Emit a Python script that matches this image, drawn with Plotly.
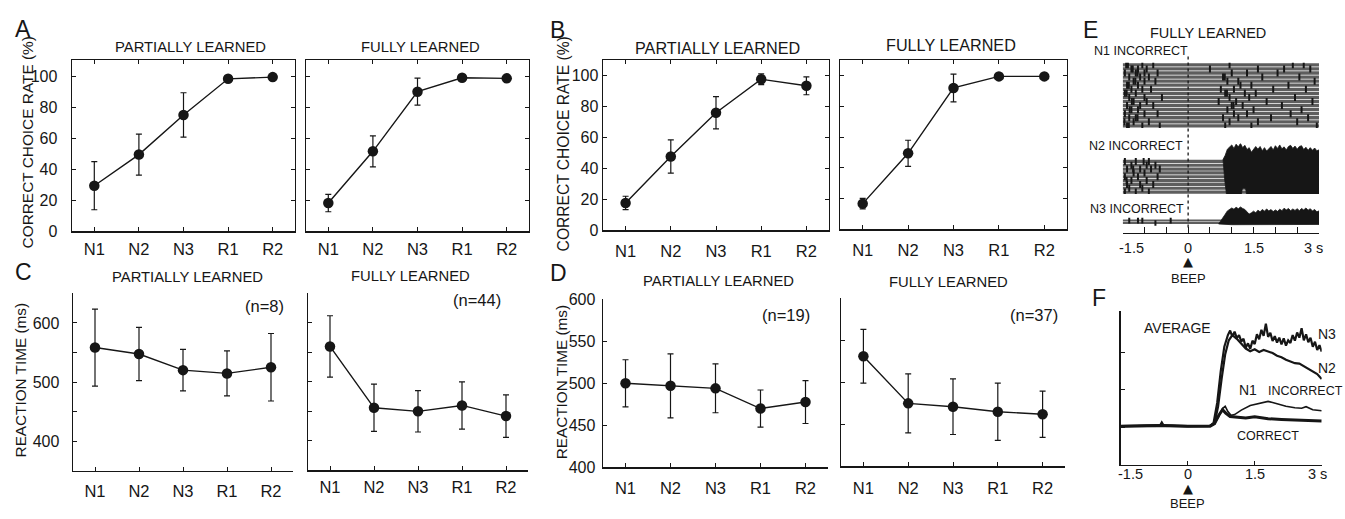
import plotly.graph_objects as go

W, H = 1345, 519
FONT = "Liberation Sans, Arial, Helvetica, sans-serif"
INK = "#161616"
ROW_GRAY = "#5e5e5e"

# ---------------- data ----------------
CATEGORIES = ["N1", "N2", "N3", "R1", "R2"]
PCT_TICKS = [0, 20, 40, 60, 80, 100]
RT_TICKS_C = [400, 450, 500, 550, 600]
RT_TEXT_C = ["400", "", "500", "", "600"]
RT_TICKS_D = [400, 450, 500, 550, 600]

# correct choice rate (%)
A_PART_MEAN = [29.5, 49.6, 75.2, 98.5, 99.6]
A_PART_ERR = [15.5, 13.2, 14.3, 0.0, 0.0]
A_FULL_MEAN = [18.3, 51.7, 90.2, 99.2, 98.8]
A_FULL_ERR = [5.6, 10.0, 8.7, 0.0, 0.0]
B_PART_MEAN = [17.8, 47.8, 76.1, 97.7, 93.5]
B_PART_ERR = [4.3, 10.8, 10.4, 3.5, 5.8]
B_FULL_MEAN = [16.8, 49.5, 92.0, 99.5, 99.5]
B_FULL_ERR = [3.4, 8.5, 9.0, 0.0, 0.0]

# reaction time (ms)
C_PART_MEAN = [558.5, 547.6, 520.3, 514.8, 525.2]
C_PART_ERR = [65, 45, 35, 38, 57]
C_FULL_MEAN = [560, 456, 450, 460, 442]
C_FULL_ERR = [52, 40, 35, 40, 36]
D_PART_MEAN = [500, 497, 494, 470, 477.7]
D_PART_ERR = [28, 38, 29, 22, 25.5]
D_FULL_MEAN = [531, 475, 471, 465, 462]
D_FULL_ERR = [32, 35, 33, 34, 27.5]

# panel E raster (time in s, trial index)
E_TIME_RANGE = [-1.5, 3.0]
E_N1_TRIALS = 16
E_N2_TRIALS = 9
E_N3_TRIALS = 2
E_N1_SPIKES = [
    (-1.42, 1), (-1.05, 1), (-0.8, 1), (0.95, 1), (2.4, 1), (2.65, 1), (-1.38, 1),
    (-1.3, 2), (-1.15, 2), (-0.95, 2), (0.5, 2), (1.6, 2), (2.2, 2), (2.8, 2), (-1.27, 2),
    (-1.45, 3), (-1.2, 3), (-1.0, 3), (-0.7, 3), (1.0, 3), (1.35, 3), (2.05, 3), (-1.16, 3),
    (-1.35, 4), (-1.1, 4), (-0.9, 4), (0.8, 4), (1.7, 4), (2.55, 4), (0.84, 4),
    (-1.25, 5), (-1.0, 5), (-0.75, 5), (0.9, 5), (1.15, 5), (2.9, 5), (-1.21, 5),
    (-1.4, 6), (-1.15, 6), (1.2, 6), (1.45, 6), (2.3, 6), (-1.36, 6),
    (-1.3, 7), (-1.05, 7), (-0.85, 7), (0.75, 7), (1.05, 7), (1.95, 7), (2.7, 7),
    (-1.45, 8), (-1.2, 8), (0.85, 8), (1.3, 8), (1.55, 8), (-1.41, 8), (0.89, 8),
    (-1.35, 9), (-1.0, 9), (-0.6, 9), (0.95, 9), (1.4, 9), (2.45, 9),
    (-1.25, 10), (-0.95, 10), (0.7, 10), (1.1, 10), (1.8, 10), (2.85, 10), (-1.29, 10),
    (-1.4, 11), (-1.1, 11), (-0.8, 11), (1.0, 11), (1.25, 11), (2.15, 11), (1.04, 11),
    (-1.3, 12), (-1.15, 12), (0.9, 12), (1.5, 12), (2.6, 12), (-1.34, 12),
    (-1.45, 13), (-1.0, 13), (-0.7, 13), (1.05, 13), (1.35, 13), (2.35, 13),
    (-1.35, 14), (-1.2, 14), (0.8, 14), (1.15, 14), (1.9, 14), (2.75, 14), (-1.16, 14),
    (-1.25, 15), (-0.9, 15), (0.95, 15), (1.6, 15), (2.5, 15), (-1.46, 15),
    (-1.4, 16), (-1.05, 16), (-0.65, 16), (0.85, 16), (1.45, 16), (2.95, 16), (-1.36, 16),
]
E_N2_SPIKES = [
    (-1.45, 1), (-1.2, 1), (-0.9, 1), (-1.35, 2), (-1.05, 2), (-1.4, 3), (-1.1, 3),
    (-0.8, 3), (-1.3, 4), (-0.95, 4), (-1.45, 5), (-1.15, 5), (-0.7, 5), (-1.25, 6),
    (-1.0, 6), (-1.4, 7), (-1.1, 7), (-0.85, 7), (-0.65, 7), (-1.3, 8), (-0.95, 8),
    (-0.75, 8), (-1.45, 9), (-1.2, 9), (-0.9, 9), (-1.41, 4), (-1.26, 7), (-1.02, 9),
]
E_N3_SPIKES = [(-1.35, 2), (-1.15, 2), (-1.05, 2), (-0.75, 1), (-0.4, 2)]
E_N2_BURST_T = [0.80, 0.85, 0.90, 0.95, 1.00, 1.05, 1.10, 1.15, 1.20, 1.25, 1.30, 1.35, 1.40,
                1.45, 1.50, 1.55, 1.60, 1.65, 1.70, 1.75, 1.80, 1.85, 1.90, 1.95, 2.00, 2.05,
                2.10, 2.15, 2.20, 2.25, 2.30, 2.35, 2.40, 2.45, 2.50, 2.55, 2.60, 2.65, 2.70,
                2.75, 2.80, 2.85, 2.90, 2.95, 3.00,
                3.00, 2.70, 2.40, 2.10, 1.80, 1.50, 1.34, 1.32, 1.28, 1.24, 1.22, 1.00, 0.88,
                0.84, 0.82, 0.80]
E_N2_BURST_Y = [9.5, 10.6, 12.2, 12.9, 13.3, 12.4, 13.5, 12.8, 13.7, 12.6, 13.2, 12.1, 12.6,
                11.4, 12.1, 12.9, 12.2, 12.9, 11.8, 12.6, 11.7, 12.4, 12.9, 12.0, 13.1, 12.4,
                13.3, 12.3, 12.8, 12.0, 12.9, 13.2, 12.4, 13.0, 12.2, 12.9, 13.1, 12.1, 12.7,
                11.9, 12.6, 11.9, 12.5, 11.8, 12.0,
                0.4, 0.2, 0.35, 0.15, 0.3, 0.2, 0.3, 1.8, 2.1, 1.8, 0.3, 0.15, 0.3,
                4.0, 7.0, 9.5]
E_N3_BURST_T = [0.70, 0.75, 0.80, 0.85, 0.90, 0.95, 1.00, 1.05, 1.10, 1.15, 1.20, 1.25, 1.30,
                1.35, 1.40, 1.45, 1.50, 1.55, 1.60, 1.65, 1.70, 1.75, 1.80, 1.85, 1.90, 1.95,
                2.00, 2.05, 2.10, 2.15, 2.20, 2.25, 2.30, 2.35, 2.40, 2.45, 2.50, 2.55, 2.60,
                2.65, 2.70, 2.75, 2.80, 2.85, 2.90, 2.95, 3.00,
                3.00, 2.00, 1.00, 0.70]
E_N3_BURST_Y = [0.6, 1.8, 3.2, 4.6, 6.0, 6.8, 7.2, 6.7, 7.5, 6.9, 7.6, 7.0, 6.6,
                5.6, 4.7, 5.2, 5.9, 5.2, 6.3, 5.6, 6.6, 5.9, 6.8, 6.0, 6.6, 5.7,
                6.4, 5.8, 6.7, 6.1, 7.1, 6.4, 7.0, 6.1, 6.8, 6.2, 6.9, 6.1, 7.0,
                6.4, 7.2, 6.3, 6.9, 6.0, 6.6, 5.6, 6.0,
                0.4, 0.3, 0.3, 0.6]
E_TICKS = [-1.5, -1.0, -0.5, 0.0, 0.5, 1.0, 1.5, 2.0, 2.5, 3.0]
TIME_LABELS = ["-1.5", "0", "1.5", "3 s"]
TIME_LABEL_POS = [-1.5, 0.0, 1.5, 3.0]
BEEP_TIME = 0.0

# panel F average activity (arbitrary units)
F_N3_T = [-1.5, -1.0, -0.62, -0.58, -0.54, 0.0, 0.5, 0.58, 0.66, 0.74, 0.82, 0.90,
          0.95, 1.00, 1.05, 1.10, 1.15, 1.20, 1.25, 1.30, 1.35, 1.40, 1.45, 1.50, 1.55,
          1.60, 1.65, 1.70, 1.75, 1.80, 1.85, 1.90, 1.95, 2.00, 2.05, 2.10, 2.15, 2.20,
          2.25, 2.30, 2.35, 2.40, 2.45, 2.50, 2.55, 2.60, 2.65, 2.70, 2.75, 2.80, 2.85,
          2.90, 2.95, 3.00]
F_N3_V = [10.3, 10.4, 10.5, 11.3, 10.5, 10.3, 10.4, 11.2, 16.5, 25.0, 31.5, 34.6,
          35.8, 34.2, 35.5, 33.8, 34.6, 32.9, 33.6, 31.2, 32.4, 30.9, 33.1, 32.2, 34.8,
          33.5, 36.0, 34.4, 37.6, 34.1, 35.2, 33.0, 34.3, 32.6, 33.9, 32.1, 33.7, 31.8,
          33.2, 32.5, 34.6, 33.1, 35.3, 33.9, 36.4, 33.2, 34.8, 32.7, 33.9, 31.5, 32.8,
          30.6, 31.9, 30.2]
F_N2_T = [-1.5, -0.62, -0.58, -0.54, 0.0, 0.5, 0.60, 0.68, 0.76, 0.84, 0.92, 1.00,
          1.10, 1.20, 1.30, 1.40, 1.50, 1.60, 1.70, 1.80, 1.90, 2.00,
          2.10, 2.20, 2.30, 2.40, 2.50, 2.60, 2.70, 2.80, 2.90, 3.00]
F_N2_V = [10.3, 10.4, 11.0, 10.4, 10.3, 10.4, 11.0, 15.5, 23.0, 29.5, 33.2, 34.6,
          33.6, 32.2, 31.0, 30.3, 30.8, 30.1, 30.6, 30.2, 29.8, 29.1,
          28.7, 28.0, 27.6, 27.1, 27.0, 26.3, 25.7, 24.8, 24.2, 22.9]
F_N1_T = [-1.5, -0.6, 0.0, 0.5, 0.6, 0.7, 0.78, 0.84, 0.90, 0.97, 1.05, 1.2, 1.4, 1.6,
          1.8, 1.9, 2.0, 2.2, 2.4, 2.55, 2.65, 2.8, 3.0]
F_N1_V = [10.3, 10.6, 10.3, 10.4, 11.0, 13.0, 15.0, 15.6, 14.2, 13.2, 13.4, 14.6, 15.8, 16.4,
          16.9, 16.6, 16.2, 15.6, 15.2, 15.1, 15.5, 14.7, 14.4]
F_COR_T = [-1.5, -0.6, 0.0, 0.5, 0.6, 0.7, 0.78, 0.85, 0.95, 1.1, 1.3, 1.5, 1.8, 2.1, 2.4,
           2.7, 3.0]
F_COR_V = [10.3, 10.5, 10.3, 10.3, 11.0, 13.3, 14.7, 13.8, 12.9, 12.8, 12.5, 12.8, 12.3, 12.1,
           11.9, 11.8, 11.7]
F_YTICKS = [10, 20, 30]


# ---------------- helpers ----------------
def xd(left, right):
    return [left / W, right / W]


def yd(top, bottom):
    return [1 - bottom / H, 1 - top / H]


def ax_id(i, letter):
    return letter if i == 1 else f"{letter}{i}"


def lay_id(i, letter):
    return f"{letter}axis" if i == 1 else f"{letter}axis{i}"


def txt(s, x, y, size, xanchor="center", yanchor="middle", angle=0):
    return dict(text=s, x=x / W, y=1 - y / H, xref="paper", yref="paper", showarrow=False,
                font=dict(family=FONT, size=size, color=INK), xanchor=xanchor,
                yanchor=yanchor, textangle=angle)


fig = go.Figure()
layout = {}
annotations = []

# ---------------- panels A-D ----------------
panels = [
    # id, xpx, ypx(top,bottom), mean, err, yrange, tickvals, ticktext, showlabels, box, ystand, xstand
    (1, (72, 295), (54, 231), A_PART_MEAN, A_PART_ERR, [0, 110.5], PCT_TICKS, None, True, True, 10, 2),
    (2, (306, 529), (54, 231), A_FULL_MEAN, A_FULL_ERR, [0, 110.5], PCT_TICKS, None, False, True, 0, 2),
    (3, (603, 829), (54, 230), B_PART_MEAN, B_PART_ERR, [0, 110], PCT_TICKS, None, True, True, 0, 5),
    (4, (840, 1067), (54, 229), B_FULL_MEAN, B_FULL_ERR, [0, 110], PCT_TICKS, None, False, True, 0, 5),
    (5, (73, 293), (295, 478.7), C_PART_MEAN, C_PART_ERR, [350, 650], RT_TICKS_C, RT_TEXT_C, True, False, 9, 5),
    (6, (308, 528), (295, 478), C_FULL_MEAN, C_FULL_ERR, [350, 650], RT_TICKS_C, RT_TEXT_C, False, False, 0, 1),
    (7, (603, 828), (301, 475), D_PART_MEAN, D_PART_ERR, [400, 600], RT_TICKS_D, None, True, False, 3, 5),
    (8, (841, 1065), (300, 474), D_FULL_MEAN, D_FULL_ERR, [400, 600], RT_TICKS_D, None, False, False, 0, 6),
]

for (i, xpx, ypx, mean, err, yr, tv, tt, showlab, box, ystand, xstand) in panels:
    fig.add_trace(go.Scatter(
        x=CATEGORIES, y=mean, mode="lines+markers",
        error_y=dict(type="data", array=err, visible=True, color=INK, thickness=1.2, width=3),
        marker=dict(size=10.5, color=INK), line=dict(color=INK, width=1.4),
        xaxis=ax_id(i, "x"), yaxis=ax_id(i, "y"), showlegend=False, hoverinfo="skip"))
    common = dict(showline=True, linecolor=INK, linewidth=1.4, ticks="inside", ticklen=4,
                  tickwidth=1, tickcolor=INK, showgrid=False, zeroline=False, fixedrange=True,
                  mirror="ticks" if box else False)
    layout[lay_id(i, "x")] = dict(common, domain=xd(*xpx), anchor=ax_id(i, "y"),
                                   type="category", range=[-0.5, 4.5],
                                   ticklabelstandoff=xstand,
                                   tickfont=dict(family=FONT, size=16.5, color=INK))
    ycfg = dict(common, domain=yd(*ypx), anchor=ax_id(i, "x"), range=yr, tickvals=tv,
                showticklabels=showlab, ticklabelstandoff=ystand,
                tickfont=dict(family=FONT, size=16, color=INK))
    if tt is not None:
        ycfg["ticktext"] = tt
    layout[lay_id(i, "y")] = ycfg

# panel titles / labels
annotations += [
    txt("A", 23, 22, 23), txt("B", 557, 23, 23), txt("C", 23, 273, 23), txt("D", 558, 274, 23),
    txt("E", 1090, 23, 23), txt("F", 1099, 300, 23),
    txt("PARTIALLY LEARNED", 190, 40, 14.8), txt("FULLY LEARNED", 421, 40, 14.8),
    txt("PARTIALLY LEARNED", 717, 41.5, 16.2), txt("FULLY LEARNED", 951, 38.5, 16.2),
    txt("PARTIALLY LEARNED", 187, 278.5, 14.8), txt("FULLY LEARNED", 410, 277, 14.8),
    txt("PARTIALLY LEARNED", 718, 282.5, 14.8), txt("FULLY LEARNED", 948, 283.5, 14.8),
    txt("CORRECT CHOICE RATE (%)", 27, 139, 15.4, angle=-90),
    txt("CORRECT CHOICE RATE (%)", 563, 141, 15.6, angle=-90),
    txt("REACTION TIME (ms)", 20, 385, 15.3, angle=-90),
    txt("REACTION TIME (ms)", 561, 387, 15.3, angle=-90),
    txt("(n=8)", 264, 308, 16.5), txt("(n=44)", 477, 302, 16.5),
    txt("(n=19)", 786, 317, 16.5), txt("(n=37)", 1034, 317, 16.5),
]

# ---------------- panel E (raster) ----------------
E_X = (1122.7, 1319)
e_blocks = [
    (9, (56.7, 124), [E_N1_TRIALS + 0.5, 0.5], E_N1_TRIALS, E_N1_SPIKES, 3.3, 5),
    (10, (140, 192.3), [0.5, 13.7], E_N2_TRIALS, E_N2_SPIKES, 3.1, 5),
    (11, (203, 232.3), [-3, 8.7], E_N3_TRIALS, E_N3_SPIKES, 2.0, 4),
]
for (i, ypx, yr, ntr, spikes, rw, ssize) in e_blocks:
    rx, ry = [], []
    for k in range(1, ntr + 1):
        rx += [E_TIME_RANGE[0], E_TIME_RANGE[1], None]
        ry += [k, k, None]
    fig.add_trace(go.Scatter(x=rx, y=ry, mode="lines", line=dict(color=ROW_GRAY, width=rw),
                             xaxis=ax_id(i, "x"), yaxis=ax_id(i, "y"), showlegend=False,
                             hoverinfo="skip"))
    fig.add_trace(go.Scatter(x=[s[0] for s in spikes], y=[s[1] for s in spikes], mode="markers",
                             marker=dict(symbol="line-ns", size=ssize, color=INK,
                                         line=dict(width=2.0, color=INK)),
                             xaxis=ax_id(i, "x"), yaxis=ax_id(i, "y"), showlegend=False,
                             hoverinfo="skip"))
    hidden = dict(visible=False, fixedrange=True)
    layout[lay_id(i, "y")] = dict(hidden, domain=yd(*ypx), range=yr, anchor=ax_id(i, "x"))
    if i == 11:
        layout[lay_id(i, "x")] = dict(domain=xd(*E_X), anchor=ax_id(i, "y"), range=E_TIME_RANGE,
                                       showline=True, linecolor=INK, linewidth=1.3,
                                       ticks="inside", ticklen=6, tickwidth=1.1, tickcolor=INK,
                                       tickvals=E_TICKS, showticklabels=False, showgrid=False,
                                       zeroline=False, fixedrange=True)
    else:
        layout[lay_id(i, "x")] = dict(hidden, domain=xd(*E_X), range=E_TIME_RANGE,
                                       anchor=ax_id(i, "y"))

for (i, bt, by) in [(10, E_N2_BURST_T, E_N2_BURST_Y), (11, E_N3_BURST_T, E_N3_BURST_Y)]:
    fig.add_trace(go.Scatter(x=bt, y=by, mode="lines", fill="toself", fillcolor=INK,
                             line=dict(color=INK, width=0.8), xaxis=ax_id(i, "x"),
                             yaxis=ax_id(i, "y"), showlegend=False, hoverinfo="skip"))

shapes = [dict(type="line", xref="x9", yref="paper", x0=BEEP_TIME, x1=BEEP_TIME,
               y0=1 - 227 / H, y1=1 - 50 / H, line=dict(color=INK, width=1.3, dash="3px,3px"))]

annotations += [
    txt("FULLY LEARNED", 1207.5, 25.5, 14.5),
    txt("N1 INCORRECT", 1092, 44, 12.5, xanchor="left"),
    txt("N2 INCORRECT", 1087, 143, 12.5, xanchor="left"),
    txt("N3 INCORRECT", 1088, 208, 12.5, xanchor="left"),
]
e_shift = {"-1.5": 9, "0": 0, "1.5": 0, "3 s": -6}
for lab, pos in zip(TIME_LABELS, TIME_LABEL_POS):
    annotations.append(dict(text=lab, x=pos, y=1 - 248 / H, xref="x11", yref="paper",
                            showarrow=False, xshift=e_shift[lab], yanchor="middle",
                            font=dict(family=FONT, size=14.5, color=INK)))
annotations.append(dict(text="▲", x=BEEP_TIME, y=1 - 262 / H, xref="x11", yref="paper",
                        showarrow=False, yanchor="middle",
                        font=dict(family="DejaVu Sans", size=13, color=INK)))
annotations.append(dict(text="BEEP", x=BEEP_TIME, y=1 - 280 / H, xref="x11", yref="paper",
                        showarrow=False, yanchor="middle",
                        font=dict(family=FONT, size=13, color=INK)))

# ---------------- panel F (averages) ----------------
for t, v, w in [(F_COR_T, F_COR_V, 3.0), (F_N1_T, F_N1_V, 1.6),
                (F_N2_T, F_N2_V, 2.2), (F_N3_T, F_N3_V, 2.2)]:
    fig.add_trace(go.Scatter(x=t, y=v, mode="lines", line=dict(color=INK, width=w),
                             xaxis="x12", yaxis="y12", showlegend=False, hoverinfo="skip"))

layout["xaxis12"] = dict(domain=xd(1120.7, 1321.7), anchor="y12", range=E_TIME_RANGE,
                         showline=True, linecolor=INK, linewidth=1.3, ticks="inside", ticklen=4,
                         tickwidth=1, tickcolor=INK, tickvals=TIME_LABEL_POS,
                         showticklabels=False, showgrid=False, zeroline=False, fixedrange=True)
layout["yaxis12"] = dict(domain=yd(313.3, 472.3), anchor="x12", range=[0, 41], showline=True,
                         linecolor=INK, linewidth=1.3, ticks="inside", ticklen=4, tickwidth=1,
                         tickcolor=INK, tickvals=F_YTICKS, showticklabels=False,
                         showgrid=False, zeroline=False, fixedrange=True)

f_shift = {"-1.5": 10, "0": 0, "1.5": 0, "3 s": -4}
for lab, pos in zip(TIME_LABELS, TIME_LABEL_POS):
    annotations.append(dict(text=lab, x=pos, y=1 - 481.7 / H, xref="x12", yref="paper",
                            showarrow=False, xshift=f_shift[lab], yanchor="middle",
                            font=dict(family=FONT, size=14.5, color=INK)))
annotations.append(dict(text="▲", x=BEEP_TIME, y=1 - 496.5 / H, xref="x12", yref="paper",
                        showarrow=False, yanchor="middle",
                        font=dict(family="DejaVu Sans", size=13, color=INK)))
annotations.append(dict(text="BEEP", x=BEEP_TIME, y=1 - 512 / H, xref="x12", yref="paper",
                        showarrow=False, yanchor="middle",
                        font=dict(family=FONT, size=13, color=INK)))
annotations += [
    txt("AVERAGE", 1177, 331, 14),
    txt("N3", 1327, 337, 14),
    txt("N2", 1327, 372, 14),
    txt("N1", 1248, 395, 14),
    txt("INCORRECT", 1305, 396, 12.5),
    txt("CORRECT", 1268, 443, 12.5),
]

fig.update_layout(
    width=W, height=H, autosize=False,
    margin=dict(l=0, r=0, t=0, b=0),
    paper_bgcolor="white", plot_bgcolor="rgba(0,0,0,0)",
    font=dict(family=FONT, color=INK),
    annotations=annotations, shapes=shapes, showlegend=False,
    **layout,
)

fig.write_html(
    "out.html",
    config={"displayModeBar": False, "staticPlot": True},
    post_script="document.body.style.margin='0';document.body.style.overflow='hidden';",
)
